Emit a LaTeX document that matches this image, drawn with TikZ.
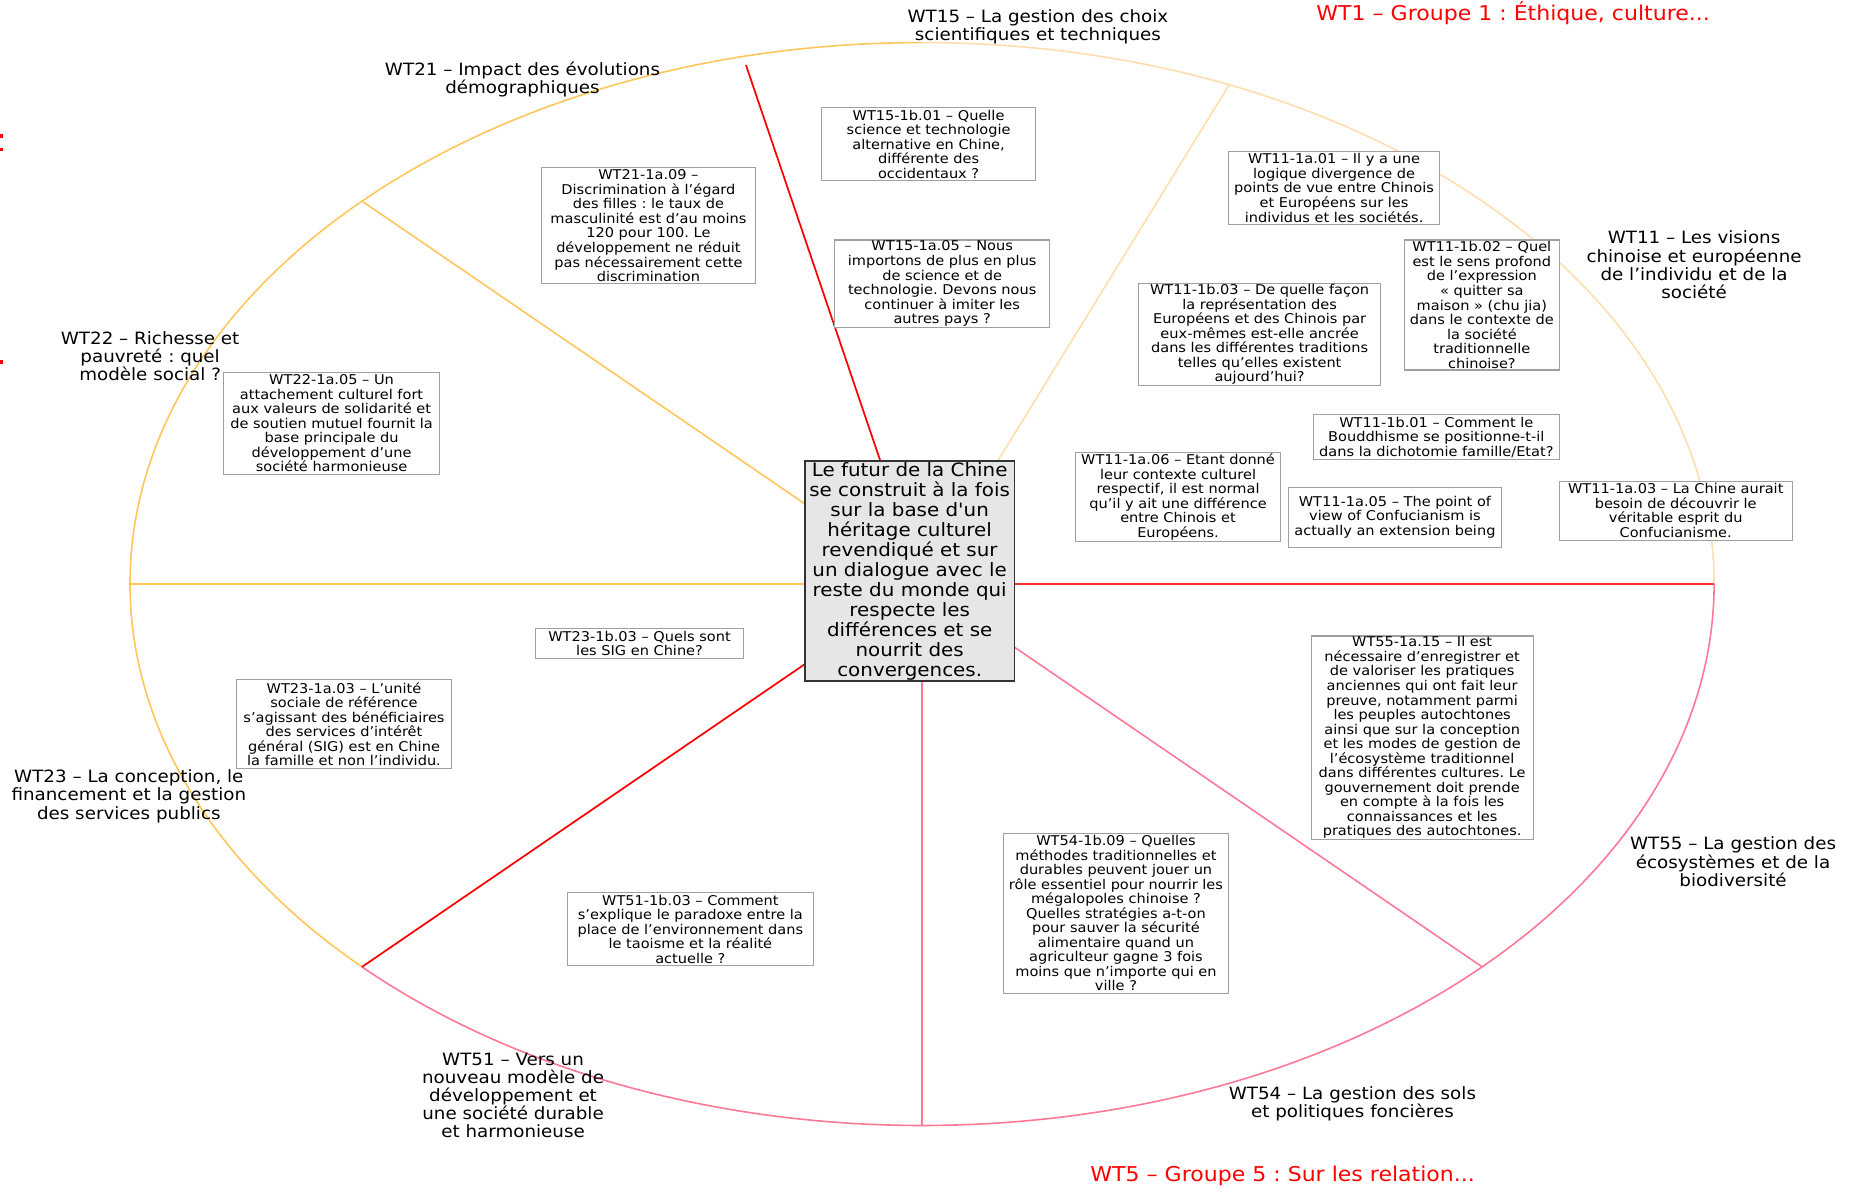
\documentclass[tikz,border=0pt]{standalone}
\usepackage{fontspec}
\setmainfont{DejaVu Sans}[FakeStretch=1.08]
\newfontfamily\plainfont{DejaVu Sans}[FakeStretch=1.08]
\frenchspacing
\definecolor{cOr}{HTML}{FFC65C}
\definecolor{cPe}{HTML}{FFDDAF}
\definecolor{cPk}{HTML}{FF7896}
\definecolor{cRd}{HTML}{FF0000}
\definecolor{cRd2}{HTML}{FF3333}
\definecolor{cBd}{HTML}{A0A0A0}
\definecolor{cFill}{HTML}{E6E6E6}
\begin{document}
\begin{tikzpicture}[x=0.8866pt,y=-0.8866pt,
  bx/.style 2 args={draw=cBd, fill=white, line width=0.8pt, inner sep=0pt, align=center,
     minimum width=#1*0.8866pt, minimum height=#2*0.8866pt, font=\fontsize{10.1}{10.9}\selectfont},
  cbox/.style={draw=black!80, fill=cFill, line width=0.9pt, inner sep=0pt, align=center,
     minimum width=177*0.8866pt, minimum height=186*0.8866pt, font=\plainfont\fontsize{13.8}{15}\selectfont},
  lbl/.style={align=center, inner sep=0pt, font=\fontsize{12.7}{13.6}\selectfont},
  ttl/.style={text=cRd, inner sep=0pt, font=\fontsize{15.3}{16}\selectfont},
  lnO/.style={draw=cOr, line width=1.2pt},
  lnP/.style={draw=cPe, line width=1.2pt},
  lnK/.style={draw=cPk, line width=1.2pt},
  lnR/.style={draw=cRd, line width=1.3pt},
  lnR2/.style={draw=cRd2, line width=1.3pt}]
\useasboundingbox (0,0) rectangle (1570,1007.6);

% key points
\coordinate (c) at (780,494);
\coordinate (top) at (780,36);
\coordinate (r1) at (631,55);
\coordinate (r2) at (1039.7,71.8);
\coordinate (r3) at (306.2,170.1);
\coordinate (r4) at (110,494);
\coordinate (r5) at (306.2,817.9);
\coordinate (r6) at (780,952);
\coordinate (r7) at (1253.8,817.9);
\coordinate (r8) at (1450,494);

% ellipse arcs per group
\draw[lnO] (top) arc[start angle=-90, end angle=-225, x radius=670, y radius=458];
\draw[lnP] (r8) arc[start angle=0, end angle=-90, x radius=670, y radius=458];
\draw[lnK] (r5) arc[start angle=-225, end angle=-360, x radius=670, y radius=458];

% radial dividers
\draw[lnR] (c) -- (r1);
\draw[lnP] (c) -- (r2);
\draw[lnO] (c) -- (r3);
\draw[lnO] (c) -- (r4);
\draw[lnR] (c) -- (r5);
\draw[lnK] (c) -- (r6);
\draw[lnK] (c) -- (r7);
\draw[lnR2] (c) -- (r8);

% central node
\node[cbox] (ctr) at (769.5,483) {Le futur de la Chine\\se construit à la fois\\sur la base d'un\\héritage culturel\\revendiqué et sur\\un dialogue avec le\\reste du monde qui\\respecte les\\différences et se\\nourrit des\\convergences.};

% group titles
\node[ttl] (t1) at (1280,11) {WT1 – Groupe 1 : Éthique, culture...};
\node[ttl] (t5) at (1085,995) {WT5 – Groupe 5 : Sur les relation...};
\fill[cRd] (0,113.5) rectangle (2.2,116.5);
\fill[cRd] (0,125) rectangle (2.2,128);
\fill[cRd] (0,304.5) rectangle (2.2,307.5);

% sector labels
\node[lbl] (l15) at (878,22.5) {WT15 – La gestion des choix\\scientifiques et techniques};
\node[lbl] (l21) at (442,67.5) {WT21 – Impact des évolutions\\démographiques};
\node[lbl] (l11) at (1433,224) {WT11 – Les visions\\chinoise et européenne\\de l’individu et de la\\société};
\node[lbl] (l22) at (127,301) {WT22 – Richesse et\\pauvreté : quel\\modèle social ?};
\node[lbl] (l23) at (109,673.5) {WT23 – La conception, le\\financement et la gestion\\des services publics};
\node[lbl] (l51) at (434,926.5) {WT51 – Vers un\\nouveau modèle de\\développement et\\une société durable\\et harmonieuse};
\node[lbl] (l54) at (1144,933.5) {WT54 – La gestion des sols\\et politiques foncières};
\node[lbl] (l55) at (1466,729) {WT55 – La gestion des\\écosystèmes et de la\\biodiversité};

% idea boxes
\node[bx={181}{98}] (b2109) at (548.5,191) {WT21-1a.09 –\\Discrimination à l’égard\\des filles : le taux de\\masculinité est d’au moins\\120 pour 100. Le\\développement ne réduit\\pas nécessairement cette\\discrimination};
\node[bx={181}{62}] (b1501) at (785.5,122) {WT15-1b.01 – Quelle\\science et technologie\\alternative en Chine,\\différente des\\occidentaux ?};
\node[bx={182}{74}] (b1505) at (797,240) {WT15-1a.05 – Nous\\importons de plus en plus\\de science et de\\technologie. Devons nous\\continuer à imiter les\\autres pays ?};
\node[bx={179}{62}] (b1101) at (1128.5,159) {WT11-1a.01 – Il y a une\\logique divergence de\\points de vue entre Chinois\\et Européens sur les\\individus et les sociétés.};
\node[bx={131}{110}] (b1102) at (1253.5,258) {WT11-1b.02 – Quel\\est le sens profond\\de l’expression\\« quitter sa\\maison » (chu jia)\\dans le contexte de\\la société\\traditionnelle\\chinoise?};
\node[bx={205}{86}] (b1103) at (1065.5,283) {WT11-1b.03 – De quelle façon\\la représentation des\\Européens et des Chinois par\\eux-mêmes est-elle ancrée\\dans les différentes traditions\\telles qu’elles existent\\aujourd’hui?};
\node[bx={208}{38}] (b11b01) at (1215,370) {WT11-1b.01 – Comment le\\Bouddhisme se positionne-t-il\\dans la dichotomie famille/Etat?};
\node[bx={173}{75}] (b1106) at (996.5,420.5) {WT11-1a.06 – Etant donné\\leur contexte culturel\\respectif, il est normal\\qu’il y ait une différence\\entre Chinois et\\Européens.};
\node[bx={180}{51}] (b1105) at (1180,437.5) {WT11-1a.05 – The point of\\view of Confucianism is\\actually an extension being};
\node[bx={197}{50}] (b1103a) at (1417.5,432) {WT11-1a.03 – La Chine aurait\\besoin de découvrir le\\véritable esprit du\\Confucianisme.};
\node[bx={183}{86}] (b2205) at (280.5,358) {WT22-1a.05 – Un\\attachement culturel fort\\aux valeurs de solidarité et\\de soutien mutuel fournit la\\base principale du\\développement d’une\\société harmonieuse};
\node[bx={176}{25}] (b2303b) at (541,544.5) {WT23-1b.03 – Quels sont\\les SIG en Chine?};
\node[bx={182}{75}] (b2303) at (291,612.5) {WT23-1a.03 – L’unité\\sociale de référence\\s’agissant des bénéficiaires\\des services d’intérêt\\général (SIG) est en Chine\\la famille et non l’individu.};
\node[bx={208}{62}] (b5103) at (584,786) {WT51-1b.03 – Comment\\s’explique le paradoxe entre la\\place de l’environnement dans\\le taoisme et la réalité\\actuelle ?};
\node[bx={190}{135}] (b5409) at (944,772.5) {WT54-1b.09 – Quelles\\méthodes traditionnelles et\\durables peuvent jouer un\\rôle essentiel pour nourrir les\\mégalopoles chinoise ?\\Quelles stratégies a-t-on\\pour sauver la sécurité\\alimentaire quand un\\agriculteur gagne 3 fois\\moins que n’importe qui en\\ville ?};
\node[bx={188}{172}] (b5515) at (1203,624) {WT55-1a.15 – Il est\\nécessaire d’enregistrer et\\de valoriser les pratiques\\anciennes qui ont fait leur\\preuve, notamment parmi\\les peuples autochtones\\ainsi que sur la conception\\et les modes de gestion de\\l’écosystème traditionnel\\dans différentes cultures. Le\\gouvernement doit prende\\en compte à la fois les\\connaissances et les\\pratiques des autochtones.};
\end{tikzpicture}
\end{document}
